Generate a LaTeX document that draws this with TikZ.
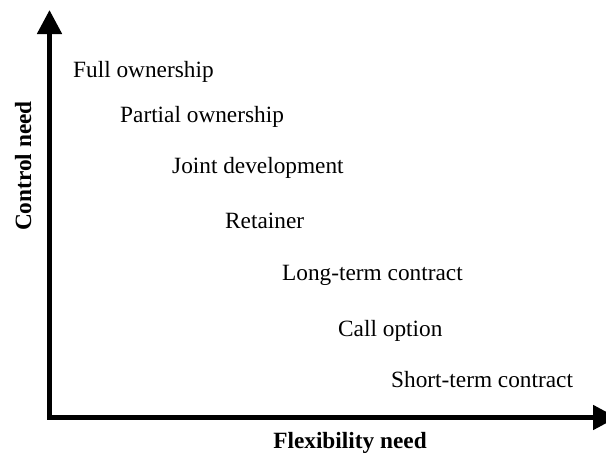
\documentclass[tikz,border=0pt]{standalone}
\usepackage{fontspec}
\setmainfont{Liberation Serif}
\usetikzlibrary{arrows.meta}
\tikzset{opt/.style={anchor=base west,inner sep=0pt},axlab/.style={anchor=base,inner sep=0pt,font=\fontsize{23.3}{28}\selectfont\bfseries}}

\begin{document}
\begin{tikzpicture}[x=1pt,y=-1pt,>={Triangle[length=24pt,width=24pt]},line join=miter,font=\fontsize{23.3}{28}\selectfont]
\useasboundingbox (0,0) rectangle (606,455);
% --- axes
\coordinate (ytop) at (49.5,10); \coordinate (o) at (49.5,417.5); \coordinate (xend) at (617,417.5);
\draw[<->,line width=5pt] (ytop) -- (o) -- (xend);
\node[axlab,rotate=90] (ctrl) at (31,166) {Control need};
\node[axlab] (flex) at (350,448) {Flexibility need};
% --- options, from most control to most flexibility
\node[opt] (full) at (73,77) {Full ownership};
\node[opt] (part) at (120,122) {Partial ownership};
\node[opt] (joint) at (172,173) {Joint development};
\node[opt] (ret) at (225,228) {Retainer};
\node[opt] (long) at (282,280) {Long-term contract};
\node[opt] (call) at (338,336) {Call option};
\node[opt] (short) at (391,387) {Short-term contract};
\end{tikzpicture}
\end{document}
